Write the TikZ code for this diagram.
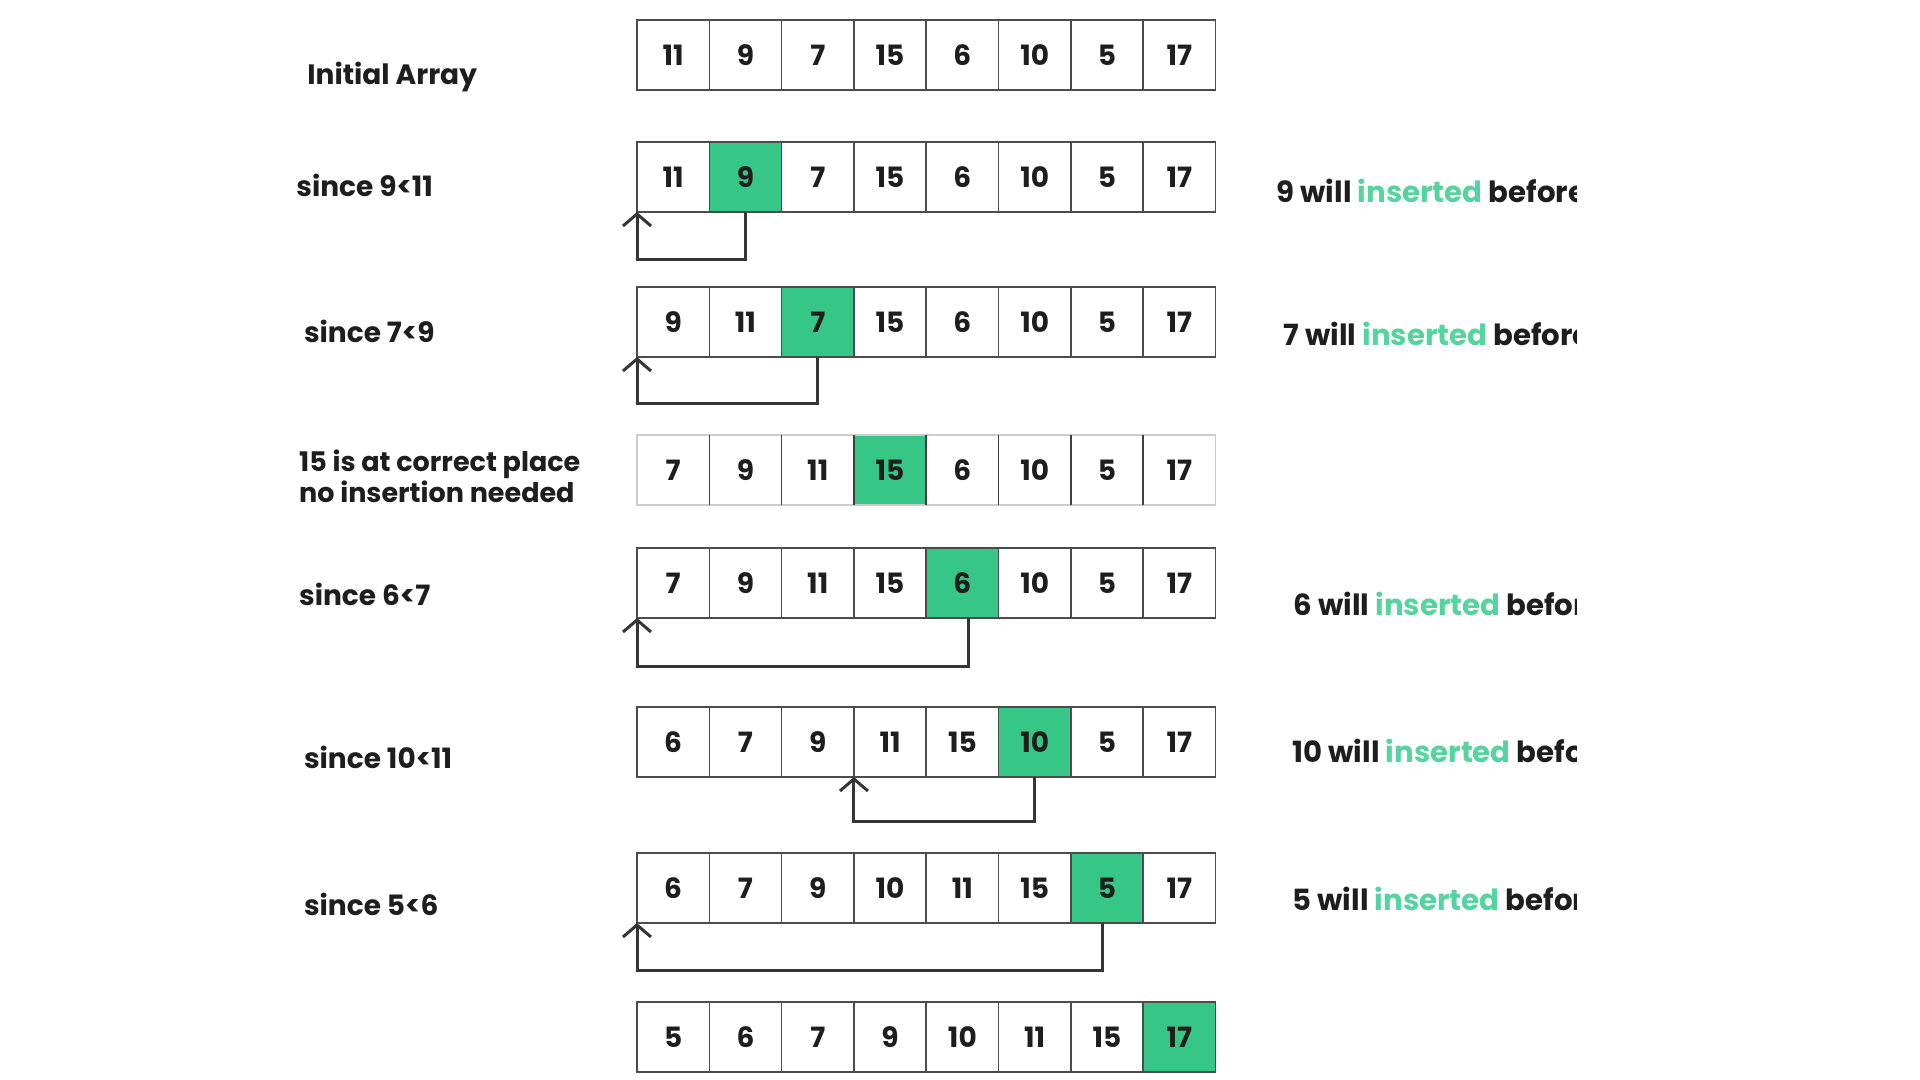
\documentclass[tikz,border=0pt]{standalone}
\usepackage{fontspec}
\setmainfont{Poppins}
\usetikzlibrary{arrows.meta}
\definecolor{gcell}{HTML}{36C686}
\definecolor{gtext}{HTML}{55D4A0}
\definecolor{ink}{HTML}{1E1E1E}
\begin{document}
\begin{tikzpicture}[x=0.5pt,y=-0.5pt,
  font=\fontsize{14}{16}\selectfont\bfseries,
  cell/.style={draw=black!70, line width=0.8pt, minimum width=36.15pt,
    minimum height=35pt, inner sep=0pt, outer sep=0pt, anchor=north west, text=ink},
  lbl/.style={anchor=base west, inner sep=0pt, text=ink},
  rlbl/.style={lbl, font=\fontsize{14.6}{16}\selectfont\bfseries},
  conn/.style={draw=ink!90, line width=1.5pt, -{Straight Barb[length=6pt,width=14pt]}}]
\fill[white] (0,0) rectangle (1920,1080);
\useasboundingbox (0,0) rectangle (1920,1080);
% arrays
\foreach \row/\top/\vals/\hi in {
  0/20/{11,9,7,15,6,10,5,17}/0,
  1/142/{11,9,7,15,6,10,5,17}/2,
  2/287/{9,11,7,15,6,10,5,17}/3,
  3/435/{7,9,11,15,6,10,5,17}/4,
  4/548/{7,9,11,15,6,10,5,17}/5,
  5/707/{6,7,9,11,15,10,5,17}/6,
  6/853/{6,7,9,10,11,15,5,17}/7,
  7/1002/{5,6,7,9,10,11,15,17}/8}{
  \foreach \v [count=\i] in \vals {
    \ifnum\i=\hi \def\cf{gcell}\else\def\cf{white}\fi
    \ifnum\row=3 \def\bc{black!20}\else\def\bc{black!70}\fi
    \node[cell, fill=\cf, draw=\bc] (r\row-\i) at ({637+72.3*(\i-1)},\top) {\v};
  }
}
% row 3 dark separators
\foreach \i in {1,...,7}{
  \draw[black!75, line width=0.8pt] (r3-\i.north east) -- (r3-\i.south east);
}
% left labels
\node[lbl] (L0) at (307,84.5) {Initial Array};
\node[lbl] (L1) at (296,197) {since 9<11};
\node[lbl] (L2) at (303.7,343) {since 7<9};
\node[lbl, align=left, font=\fontsize{13.5}{15.3}\selectfont\bfseries] (L3) at (298.8,502) {15 is at correct place\\no insertion needed};
\node[lbl] (L4) at (298.8,605) {since 6<7};
\node[lbl] (L5) at (303.7,768) {since 10<11};
\node[lbl] (L6) at (303.7,915) {since 5<6};
% right texts (cut off at the edge)
\begin{scope}
\clip (1200,0) rectangle (1576,1080);
\node[rlbl] (R1) at (1276,203) {9 will \textcolor{gtext}{inserted} before};
\node[rlbl] (R2) at (1283,345) {7 will \textcolor{gtext}{inserted} before};
\node[rlbl] (R4) at (1293,615) {6 will \textcolor{gtext}{inserted} before};
\node[rlbl] (R5) at (1292,762) {10 will \textcolor{gtext}{inserted} before};
\node[rlbl] (R6) at (1292,910) {5 will \textcolor{gtext}{inserted} before};
\end{scope}
% connectors
\draw[conn] (r1-2.south) -- ++(0,48) -| (r1-1.south west);
\draw[conn] (r2-3.south) -- ++(0,46) -| (r2-1.south west);
\draw[conn] ([xshift=3pt]r4-5.south) -- ++(0,48) -| (r4-1.south west);
\draw[conn] (r5-6.south) -- ++(0,44) -| (r5-4.south west);
\draw[conn] ([xshift=-2pt]r6-7.south) -- ++(0,47) -| (r6-1.south west);
\end{tikzpicture}
\end{document}
